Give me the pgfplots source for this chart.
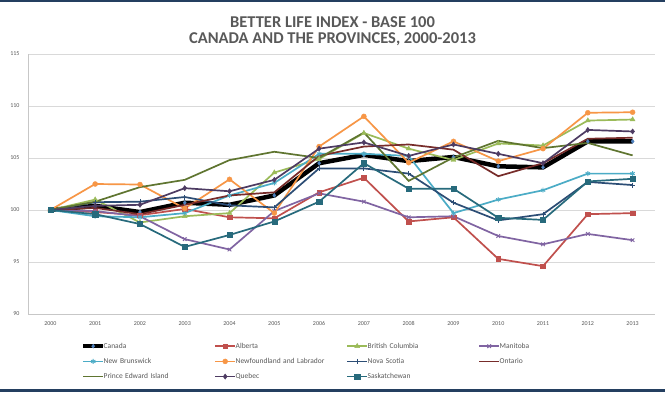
\documentclass[border=0pt]{standalone}
\usepackage{fontspec}
\setmainfont{Carlito}
\usepackage{pgfplots}
\pgfplotsset{compat=1.18}
\definecolor{cCan}{HTML}{4F81BD}
\definecolor{cAlb}{HTML}{C0504D}
\definecolor{cBC}{HTML}{9BBB59}
\definecolor{cMan}{HTML}{8064A2}
\definecolor{cNB}{HTML}{4BACC6}
\definecolor{cNL}{HTML}{F79646}
\definecolor{cNS}{HTML}{2C4D75}
\definecolor{cOnt}{HTML}{772C2A}
\definecolor{cPEI}{HTML}{5F7530}
\definecolor{cQue}{HTML}{4D3B62}
\definecolor{cSas}{HTML}{276A7C}
\definecolor{cTxt}{HTML}{595959}
\definecolor{cGrid}{HTML}{D9D9D9}
\definecolor{cFrame}{HTML}{243F60}
\begin{document}
\begin{tikzpicture}
\path[use as bounding box,fill=white] (0pt,0pt) rectangle (665pt,392pt);
\fill[cFrame] (0pt,389.5pt) rectangle (665pt,392pt);
\fill[cFrame] (0pt,0pt) rectangle (665pt,3pt);
\node[font=\bfseries\fontsize{16.5}{18}\selectfont,text=cTxt,align=center] at (332.5pt,369.7pt) {BETTER LIFE INDEX - BASE 100};
\node[font=\bfseries\fontsize{16.5}{18}\selectfont,text=cTxt,align=center] at (332.5pt,352.7pt) {CANADA AND THE PROVINCES, 2000-2013};
\begin{axis}[
  at={(28pt,78pt)}, anchor=south west,
  width=627pt, height=260pt, scale only axis,
  xmin=1999.5, xmax=2013.5, ymin=90, ymax=115,
  xtick={2000,...,2013}, ytick={90,95,...,115},
  /pgf/number format/assume math mode=true,
  xticklabel style={/pgf/number format/1000 sep={}},
  tick label style={font=\fontsize{6}{7}\selectfont, text=cTxt},
  major tick length=0pt,
  ymajorgrids, grid style={cGrid, line width=0.7pt},
  axis x line*=bottom, axis y line*=left,
  axis line style={cGrid!80!gray, line width=0.7pt},
  x axis line style={-}, y axis line style={-},
  xticklabel style={yshift=-4pt},
  yticklabel style={xshift=-5pt},
  legend columns=4,
  legend cell align=left,
  legend style={at={(axis description cs:0.0877,-0.0938)}, anchor=north west,
    draw=none, fill=none, column sep=0pt, row sep=0pt, inner sep=0pt,
    font=\fontsize{7.5}{9}\selectfont, text=cTxt,
    nodes={inner sep=0.5pt, text width=111pt, minimum height=15.2pt, anchor=west, xshift=-1.5pt}},
  legend image code/.code={\path[use as bounding box, draw=none, fill=none] (0pt,-3pt) rectangle (20pt,3pt);\draw[mark repeat=2,mark phase=2,#1] plot coordinates {(0pt,0pt) (10pt,0pt) (20pt,0pt)};},
  every axis plot/.append style={line width=1.7pt},
]
\addplot[black, line width=4.5pt, mark=diamond*, mark size=2pt, mark options={fill=cCan, draw=cCan, line width=0.4pt}] coordinates {
(2000,100) (2001,100.4) (2002,99.8) (2003,100.7) (2004,100.5) (2005,101.4) (2006,104.5) (2007,105.3) (2008,104.7) (2009,105.1) (2010,104.2) (2011,104.1) (2012,106.6) (2013,106.6)};
\addlegendentry{Canada}
\addplot[cAlb, mark=square*, mark size=2.4pt, mark options={line width=0.4pt}] coordinates {
(2000,100) (2001,99.8) (2002,99.5) (2003,100.1) (2004,99.3) (2005,99.2) (2006,101.7) (2007,103.1) (2008,98.9) (2009,99.3) (2010,95.3) (2011,94.6) (2012,99.6) (2013,99.7)};
\addlegendentry{Alberta}
\addplot[cBC, mark=triangle*, mark size=2.8pt, mark options={line width=0.4pt}] coordinates {
(2000,100) (2001,101.0) (2002,98.8) (2003,99.4) (2004,99.7) (2005,103.6) (2006,104.9) (2007,107.4) (2008,105.9) (2009,104.8) (2010,106.4) (2011,106.2) (2012,108.6) (2013,108.7)};
\addlegendentry{British Columbia}
\addplot[cMan, mark=x, mark size=2.5pt, mark options={line width=0.9pt}] coordinates {
(2000,100) (2001,99.9) (2002,99.4) (2003,97.2) (2004,96.2) (2005,99.9) (2006,101.6) (2007,100.8) (2008,99.3) (2009,99.4) (2010,97.5) (2011,96.7) (2012,97.7) (2013,97.1)};
\addlegendentry{Manitoba}
\addplot[cNB, mark=asterisk, mark size=2.5pt, mark options={line width=0.9pt}] coordinates {
(2000,100) (2001,99.4) (2002,99.3) (2003,99.7) (2004,101.4) (2005,102.6) (2006,105.4) (2007,105.4) (2008,105.2) (2009,99.7) (2010,101.0) (2011,101.9) (2012,103.5) (2013,103.5)};
\addlegendentry{New Brunswick}
\addplot[cNL, mark=*, mark size=2.5pt, mark options={line width=0.4pt}] coordinates {
(2000,100) (2001,102.5) (2002,102.45) (2003,100.15) (2004,102.95) (2005,99.7) (2006,106.1) (2007,109.0) (2008,104.55) (2009,106.6) (2010,104.7) (2011,105.9) (2012,109.35) (2013,109.4)};
\addlegendentry{Newfoundland and Labrador}
\addplot[cNS, mark=+, mark size=2.5pt, mark options={line width=0.9pt}] coordinates {
(2000,100) (2001,100.75) (2002,100.8) (2003,101.25) (2004,100.45) (2005,100.25) (2006,104.0) (2007,104.0) (2008,103.5) (2009,100.7) (2010,99.0) (2011,99.6) (2012,102.7) (2013,102.4)};
\addlegendentry{Nova Scotia}
\addplot[cOnt, mark=none] coordinates {
(2000,100) (2001,100.2) (2002,99.6) (2003,100.5) (2004,101.4) (2005,101.7) (2006,105.2) (2007,106.1) (2008,106.3) (2009,105.8) (2010,103.25) (2011,104.5) (2012,106.85) (2013,106.95)};
\addlegendentry{Ontario}
\addplot[cPEI, mark=none] coordinates {
(2000,100) (2001,100.8) (2002,102.2) (2003,102.9) (2004,104.8) (2005,105.6) (2006,105.0) (2007,107.45) (2008,102.8) (2009,105.05) (2010,106.65) (2011,105.95) (2012,106.45) (2013,105.25)};
\addlegendentry{Prince Edward Island}
\addplot[cQue, mark=diamond*, mark size=2.6pt, mark options={line width=0.4pt}] coordinates {
(2000,100) (2001,100.4) (2002,100.5) (2003,102.1) (2004,101.8) (2005,102.9) (2006,105.9) (2007,106.5) (2008,105.2) (2009,106.3) (2010,105.4) (2011,104.5) (2012,107.7) (2013,107.55)};
\addlegendentry{Quebec}
\addplot[cSas, mark=square*, mark size=2.6pt, mark options={line width=0.4pt}] coordinates {
(2000,100) (2001,99.6) (2002,98.65) (2003,96.45) (2004,97.6) (2005,98.9) (2006,100.8) (2007,104.5) (2008,102.05) (2009,102.05) (2010,99.25) (2011,99.05) (2012,102.75) (2013,103.0)};
\addlegendentry{Saskatchewan}
\end{axis}
\end{tikzpicture}
\end{document}
